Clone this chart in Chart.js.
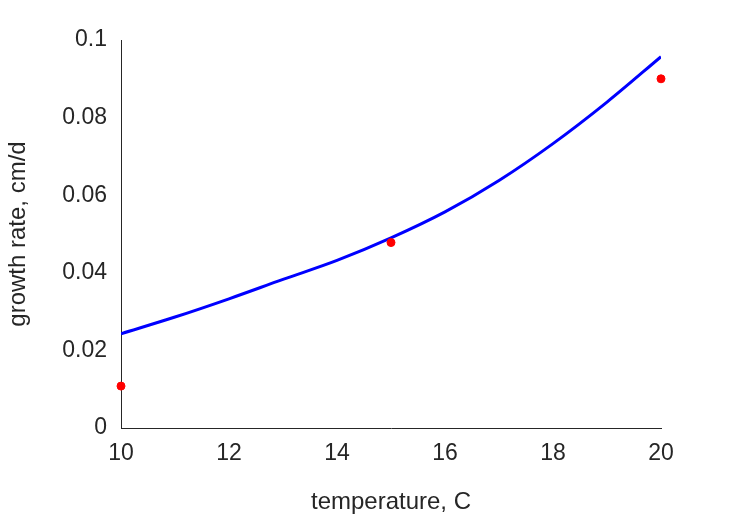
<!DOCTYPE html>
<html>
<head>
<script src="https://cdn.jsdelivr.net/npm/chart.js@4"></script>
<style>
html, body { margin: 0; padding: 0; background: #fff; }
#myChart { display: block; }
</style>
</head>
<body>
<canvas id="myChart" width="729" height="521"></canvas>
<script>
// fitted curve
const curveT = [10, 11, 12, 13, 14, 15, 16, 17, 18, 19, 20];
const curveRate = [0.0243, 0.0286, 0.0333, 0.0383, 0.0432, 0.0490, 0.0557, 0.0638, 0.0733, 0.0840, 0.0957];
// measured points
const dataT = [10, 15, 20];
const dataRate = [0.0108, 0.0478, 0.0900];

const ink = '#262626';
const font = { family: 'Liberation Sans, Arial, sans-serif', size: 23 };
const titleFont = { family: 'Liberation Sans, Arial, sans-serif', size: 24 };

new Chart(document.getElementById('myChart'), {
    type: 'line',
    data: {
        datasets: [{
            data: curveT.map((t, i) => ({ x: t, y: curveRate[i] })),
            borderColor: '#0000ff',
            borderWidth: 3,
            pointRadius: 0,
            cubicInterpolationMode: 'monotone',
            order: 2
        }, {
            type: 'scatter',
            data: dataT.map((t, i) => ({ x: t, y: dataRate[i] })),
            backgroundColor: '#ff0000',
            borderColor: '#ff0000',
            pointRadius: 4,
            clip: false,
            order: 1
        }]
    },
    options: {
        responsive: false,
        animation: false,
        layout: { padding: { top: 40, right: 68, left: 0, bottom: 0 } },
        plugins: { legend: { display: false }, tooltip: { enabled: false } },
        scales: {
            x: {
                type: 'linear', min: 10, max: 20,
                grid: { display: false },
                border: { display: true, color: ink, width: 1 },
                ticks: { stepSize: 2, color: ink, font: font, padding: 4 },
                title: { display: true, text: 'temperature, C', color: ink, font: titleFont, padding: { top: 6 } },
                afterFit: s => { s.height = 93; }
            },
            y: {
                min: 0, max: 0.1,
                grid: { display: false },
                border: { display: true, color: ink, width: 1 },
                ticks: { stepSize: 0.02, color: ink, font: font, padding: 6,
                    callback: v => v === 0 ? '0' : +v.toFixed(2) + '' },
                title: { display: true, text: 'growth rate, cm/d', color: ink, font: titleFont, padding: { bottom: 4 } },
                afterFit: s => { s.width = 121; }
            }
        }
    }
});
</script>
</body>
</html>
